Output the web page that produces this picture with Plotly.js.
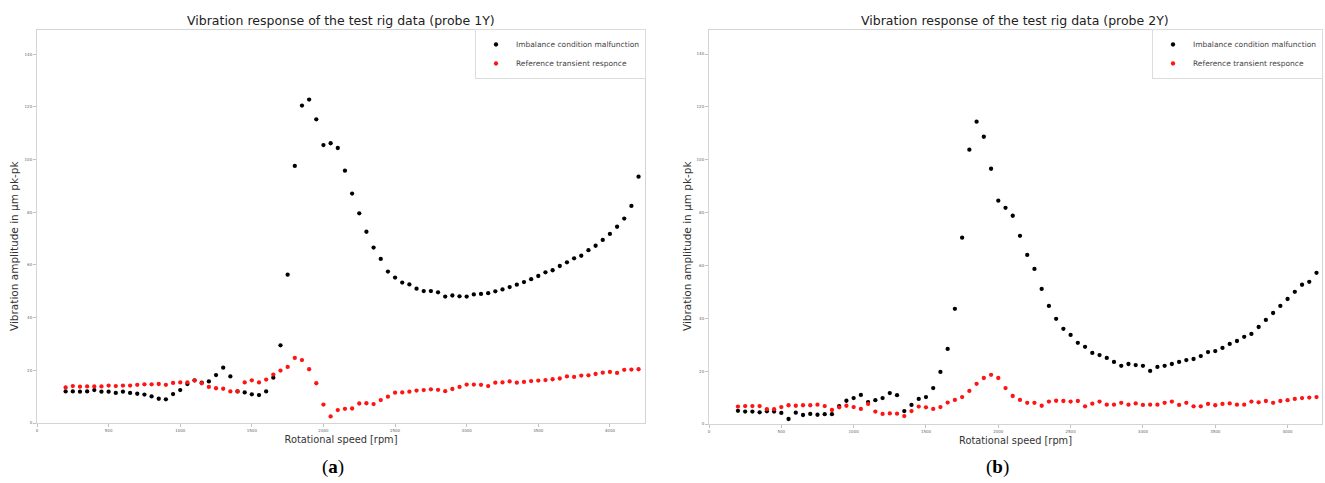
<!DOCTYPE html>
<html>
<head>
<meta charset="utf-8">
<script src="https://cdn.plot.ly/plotly-3.0.1.min.js"></script>
<style>html,body{margin:0;padding:0;background:#fff;}#chart{width:1325px;height:483px;}</style>
</head>
<body>
<div id="chart"></div>
<script>
// Rotational speed [rpm]
const rpm = [200,250,300,350,400,450,500,550,600,650,700,750,800,850,900,950,1000,1050,1100,1150,
  1200,1250,1300,1350,1400,1450,1500,1550,1600,1650,1700,1750,1800,1850,1900,1950,2000,2050,2100,2150,
  2200,2250,2300,2350,2400,2450,2500,2550,2600,2650,2700,2750,2800,2850,2900,2950,3000,3050,3100,3150,
  3200,3250,3300,3350,3400,3450,3500,3550,3600,3650,3700,3750,3800,3850,3900,3950,4000,4050,4100,4150,4200];

// Probe 1Y
const imbalance1Y = [12.0,12.0,11.9,12.0,12.5,11.9,11.9,11.4,11.9,11.4,11.1,10.8,10.1,9.2,9.0,11.0,12.5,14.8,16.2,15.3,
  15.8,18.2,21.0,17.7,12.0,11.6,10.9,10.6,12.0,17.2,29.5,56.3,97.6,120.5,122.8,115.3,105.5,106.2,104.4,95.8,
  87.1,79.6,72.6,66.6,62.3,57.5,55.2,53.3,52.6,51.0,50.1,50.1,49.6,48.0,48.4,48.1,48.0,48.8,49.0,49.3,
  50.0,50.7,51.6,52.5,53.5,54.6,55.8,57.2,58.0,59.6,61.0,62.5,63.5,65.6,67.3,69.5,71.8,74.5,77.6,82.4,93.5];
const reference1Y = [13.5,14.0,13.8,13.9,13.9,13.9,14.2,14.0,14.2,14.2,14.5,14.7,14.7,14.8,14.5,15.2,15.4,15.4,16.1,15.1,
  13.7,13.2,13.0,12.0,12.0,15.4,16.2,15.4,16.5,18.4,19.9,21.3,24.7,23.9,20.4,15.1,7.0,2.5,4.9,5.4,
  5.5,7.4,7.5,7.2,8.7,10.0,11.5,11.6,11.9,12.3,12.5,12.8,12.6,12.1,12.9,13.7,14.6,14.6,14.5,14.0,
  15.3,15.4,15.8,15.3,15.6,15.9,16.1,16.3,16.6,16.9,17.7,17.5,18.0,18.1,18.6,19.1,19.4,19.0,20.2,20.3,20.4];

// Probe 2Y
const imbalance2Y = [5.0,4.7,4.7,4.4,4.8,4.7,4.2,1.9,4.3,3.4,3.8,3.5,3.7,3.7,6.8,8.8,9.8,11.0,8.3,9.0,
  9.8,11.7,10.9,4.9,7.2,9.5,10.2,13.6,19.7,28.4,43.6,70.5,103.8,114.4,108.7,96.6,84.5,81.8,78.8,71.2,
  64.0,58.7,51.1,44.7,39.8,36.0,33.7,30.7,29.2,26.9,26.1,25.0,23.5,22.0,22.7,22.3,22.0,20.1,21.6,22.0,
  22.7,23.5,24.2,24.6,25.7,27.2,27.6,28.8,30.3,31.4,33.0,34.1,36.7,39.4,42.0,44.7,47.3,50.0,52.7,53.8,57.2];
const reference2Y = [6.6,6.8,6.8,6.8,5.6,5.6,6.4,7.1,6.9,7.1,7.1,7.3,6.8,5.3,6.3,6.9,6.4,5.7,7.6,4.7,
  3.8,4.0,3.9,3.0,4.9,6.6,6.3,5.7,6.4,8.1,9.1,10.2,12.5,15.2,17.4,18.6,17.4,13.6,10.6,9.1,
  8.0,8.0,6.9,8.5,8.8,8.7,8.5,8.7,6.7,7.7,8.5,7.3,7.3,8.0,7.3,7.8,7.2,7.3,7.3,8.0,
  8.5,7.2,8.0,6.7,6.7,7.6,7.1,7.6,7.8,7.3,7.3,8.5,8.2,8.7,8.0,8.7,9.0,9.5,9.8,10.0,10.2];

const xTicks = [0,500,1000,1500,2000,2500,3000,3500,4000];
const yTicks = [0,20,40,60,80,100,120,140];
const seriesNames = ['Imbalance condition malfunction', 'Reference transient responce'];
const titles = ['Vibration response of the test rig data (probe 1Y)', 'Vibration response of the test rig data (probe 2Y)'];

const W = 1325, H = 483;
const px = v => v / W;
const py = v => 1 - v / H;

const mk = (color) => ({size: 4.3, color: color, line: {width: 0}});

const traces = [
  {x: rpm, y: imbalance1Y, name: seriesNames[0], type: 'scatter', mode: 'markers', marker: mk('#000000'), xaxis: 'x', yaxis: 'y', legend: 'legend'},
  {x: rpm, y: reference1Y, name: seriesNames[1], type: 'scatter', mode: 'markers', marker: mk('#ff1414'), xaxis: 'x', yaxis: 'y', legend: 'legend'},
  {x: rpm, y: imbalance2Y, name: seriesNames[0], type: 'scatter', mode: 'markers', marker: mk('#000000'), xaxis: 'x2', yaxis: 'y2', legend: 'legend2'},
  {x: rpm, y: reference2Y, name: seriesNames[1], type: 'scatter', mode: 'markers', marker: mk('#ff1414'), xaxis: 'x2', yaxis: 'y2', legend: 'legend2'}
];

const tickFont = {family: 'DejaVu Sans', size: 4, color: '#666'};
const axTitleFont = {family: 'DejaVu Sans', size: 10.5, color: '#333'};

function xax(domain, range) {
  return {
    domain: domain, range: range, tickvals: xTicks, ticktext: xTicks.map(String),
    ticks: 'outside', ticklen: 3, tickwidth: 0.6, tickcolor: '#999', tickfont: tickFont,
    showline: true, mirror: true, linecolor: '#d4d4d4', linewidth: 1,
    showgrid: false, zeroline: false, automargin: false,
    title: {text: 'Rotational speed [rpm]', font: {family: 'DejaVu Sans', size: 9.8, color: '#333'}, standoff: 4}
  };
}
function yax(domain, range, anchor) {
  return {
    domain: domain, range: range, tickvals: yTicks, ticktext: yTicks.map(String),
    ticks: 'outside', ticklen: 3, tickwidth: 0.6, tickcolor: '#999', tickfont: tickFont,
    showline: true, mirror: true, linecolor: '#d4d4d4', linewidth: 1,
    showgrid: false, zeroline: false, automargin: false, anchor: anchor
  };
}

const legendBase = {
  xanchor: 'right', yanchor: 'top', bgcolor: 'rgba(255,255,255,0.9)',
  bordercolor: '#dcdcdc', borderwidth: 1, font: {family: 'DejaVu Sans', size: 7.5, color: '#444'},
  tracegroupgap: 0, itemwidth: 30
};

const layout = {
  width: W, height: H,
  margin: {l: 0, r: 0, t: 0, b: 0},
  paper_bgcolor: '#ffffff', plot_bgcolor: '#ffffff',
  showlegend: true,
  xaxis: Object.assign(xax([px(37), px(645)], [0, 4245]), {anchor: 'y'}),
  yaxis: yax([py(423), py(30)], [0, 149.2], 'x'),
  xaxis2: Object.assign(xax([px(709), px(1322)], [0, 4238]), {anchor: 'y2'}),
  yaxis2: yax([py(424), py(30)], [0, 149.1], 'x2'),
  legend: Object.assign({}, legendBase, {x: px(646), y: py(29)}),
  legend2: Object.assign({}, legendBase, {x: px(1323), y: py(29)}),
  annotations: [
    {text: titles[0], x: px(341), y: py(20), xref: 'paper', yref: 'paper', showarrow: false,
     xanchor: 'center', yanchor: 'middle', font: {family: 'DejaVu Sans', size: 12.5, color: '#222'}},
    {text: titles[1], x: px(1015), y: py(20), xref: 'paper', yref: 'paper', showarrow: false,
     xanchor: 'center', yanchor: 'middle', font: {family: 'DejaVu Sans', size: 12.5, color: '#222'}},
    {text: 'Vibration amplitude in μm pk-pk', x: px(14), y: py(246), xref: 'paper', yref: 'paper', showarrow: false,
     textangle: -90, xanchor: 'center', yanchor: 'middle', font: axTitleFont},
    {text: 'Vibration amplitude in μm pk-pk', x: px(687), y: py(246), xref: 'paper', yref: 'paper', showarrow: false,
     textangle: -90, xanchor: 'center', yanchor: 'middle', font: axTitleFont},
    {text: '(<b>a</b>)', x: px(333), y: py(467), xref: 'paper', yref: 'paper', showarrow: false,
     xanchor: 'center', yanchor: 'middle', font: {family: 'Liberation Serif', size: 19, color: '#000'}},
    {text: '(<b>b</b>)', x: px(997), y: py(467), xref: 'paper', yref: 'paper', showarrow: false,
     xanchor: 'center', yanchor: 'middle', font: {family: 'Liberation Serif', size: 19, color: '#000'}}
  ]
};

Plotly.newPlot('chart', traces, layout, {displayModeBar: false, staticPlot: true});
</script>
</body>
</html>
